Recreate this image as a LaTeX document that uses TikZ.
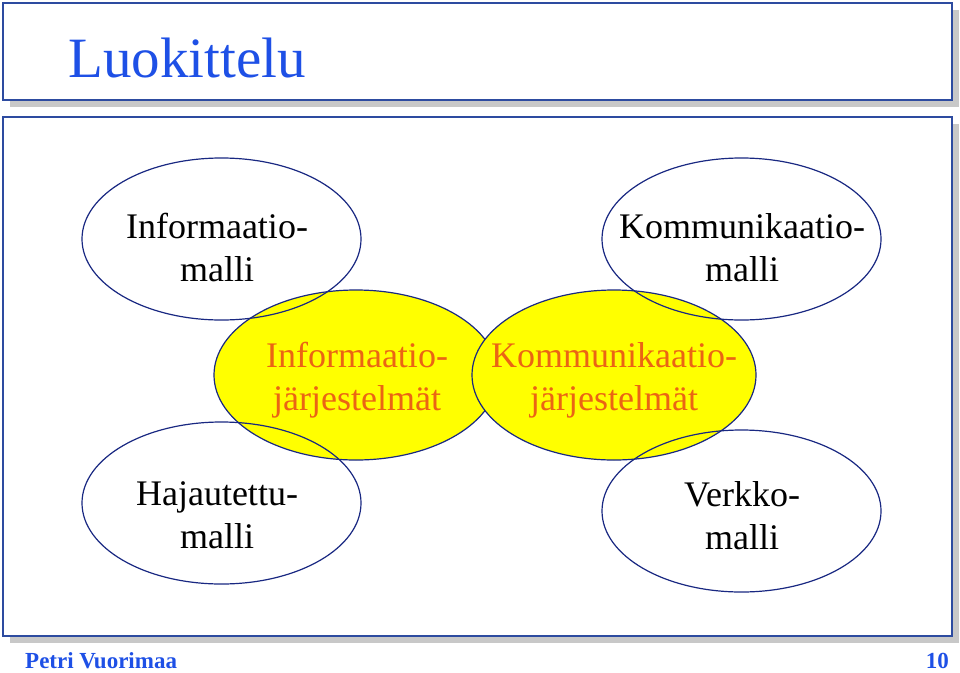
\documentclass[tikz,border=0pt]{standalone}
\usepackage{fontspec}
\setmainfont{Liberation Serif}
\usetikzlibrary{shapes.geometric}
\definecolor{titleblue}{RGB}{30,80,230}
\definecolor{frameblue}{RGB}{45,75,160}
\definecolor{linenavy}{RGB}{25,40,130}
\definecolor{shadowgray}{RGB}{200,200,200}
\definecolor{orangetext}{RGB}{235,100,20}
\definecolor{bubbleyellow}{RGB}{255,255,0}
\begin{document}
\begin{tikzpicture}[x=1pt,y=-1pt,
  frame/.style={draw=frameblue, line width=1.5pt, fill=white},
  shadowbox/.style={fill=shadowgray, draw=none},
  model/.style={ellipse, draw=linenavy, line width=1.2pt, minimum width=279pt, minimum height=162pt, inner sep=0pt},
  system/.style={ellipse, draw=linenavy, line width=1.2pt, fill=bubbleyellow, minimum width=284pt, minimum height=170pt, inner sep=0pt},
  modeltext/.style={align=center, font=\fontsize{36}{43.2}\selectfont, text=black, inner sep=0pt},
  systext/.style={modeltext, text=orangetext},
  footer/.style={font=\fontsize{23}{27}\selectfont\bfseries, text=titleblue, inner sep=0pt}]
\useasboundingbox (0,0) rectangle (960,672);
\fill[white] (0,0) rectangle (960,672);
% title box
\fill[shadowbox] (10,10) rectangle (959,107);
\draw[frame] (3,3) rectangle (952,100);
\node[anchor=base west, text=titleblue, font=\fontsize{57}{68}\selectfont, inner sep=0pt] (title) at (68,77) {Luokittelu};
% main box
\fill[shadowbox] (10,124) rectangle (959,643);
\draw[frame] (3,117) rectangle (952,636);
% yellow system ellipses
\node[system] (infsys) at (356,375) {};
\node[system] (komsys) at (614,375) {};
% model ellipses (outline only)
\node[model] (infmod) at (221.5,239) {};
\node[model] (kommod) at (741.5,239) {};
\node[model] (hajmod) at (221.5,503) {};
\node[model] (verkmod) at (741.5,511) {};
% texts
\node[modeltext] (infmodtext) at (217,247.3) {Informaatio-\\malli};
\node[modeltext] (kommodtext) at (742,247.3) {Kommunikaatio-\\malli};
\node[modeltext] (hajmodtext) at (217,515.3) {Hajautettu-\\malli};
\node[modeltext] (verkmodtext) at (742,515.3) {Verkko-\\malli};
\node[systext] (infsystext) at (357,380.2) {Informaatio-\\järjestelmät};
\node[systext] (komsystext) at (614,380.2) {Kommunikaatio-\\järjestelmät};
% footer
\node[footer, anchor=base west] (author) at (25,668) {Petri Vuorimaa};
\node[footer, anchor=base east] (page) at (949,668) {10};
\end{tikzpicture}
\end{document}
